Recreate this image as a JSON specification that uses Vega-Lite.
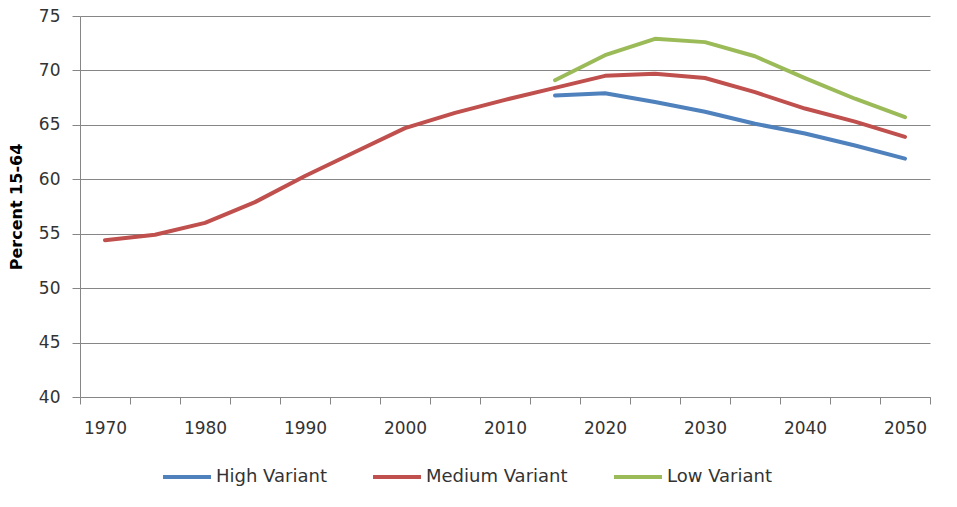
{
  "$schema": "https://vega.github.io/schema/vega-lite/v6.json",
  "autosize": "none",
  "width": 850,
  "height": 381,
  "padding": {"left": 80, "top": 16, "right": 27, "bottom": 110},
  "background": "white",
  "config": {
    "view": {"stroke": null},
    "font": "DejaVu Sans"
  },
  "data": {
    "values": [
      {"year": 1970, "variant": "Medium Variant", "pct": 54.4},
      {"year": 1975, "variant": "Medium Variant", "pct": 54.9},
      {"year": 1980, "variant": "Medium Variant", "pct": 56.0},
      {"year": 1985, "variant": "Medium Variant", "pct": 57.9},
      {"year": 1990, "variant": "Medium Variant", "pct": 60.3},
      {"year": 1995, "variant": "Medium Variant", "pct": 62.5},
      {"year": 2000, "variant": "Medium Variant", "pct": 64.7},
      {"year": 2005, "variant": "Medium Variant", "pct": 66.1},
      {"year": 2010, "variant": "Medium Variant", "pct": 67.3},
      {"year": 2015, "variant": "Medium Variant", "pct": 68.4},
      {"year": 2020, "variant": "Medium Variant", "pct": 69.5},
      {"year": 2025, "variant": "Medium Variant", "pct": 69.7},
      {"year": 2030, "variant": "Medium Variant", "pct": 69.3},
      {"year": 2035, "variant": "Medium Variant", "pct": 68.0},
      {"year": 2040, "variant": "Medium Variant", "pct": 66.5},
      {"year": 2045, "variant": "Medium Variant", "pct": 65.3},
      {"year": 2050, "variant": "Medium Variant", "pct": 63.9},
      {"year": 2015, "variant": "High Variant", "pct": 67.7},
      {"year": 2020, "variant": "High Variant", "pct": 67.9},
      {"year": 2025, "variant": "High Variant", "pct": 67.1},
      {"year": 2030, "variant": "High Variant", "pct": 66.2},
      {"year": 2035, "variant": "High Variant", "pct": 65.1},
      {"year": 2040, "variant": "High Variant", "pct": 64.2},
      {"year": 2045, "variant": "High Variant", "pct": 63.1},
      {"year": 2050, "variant": "High Variant", "pct": 61.9},
      {"year": 2015, "variant": "Low Variant", "pct": 69.1},
      {"year": 2020, "variant": "Low Variant", "pct": 71.4},
      {"year": 2025, "variant": "Low Variant", "pct": 72.9},
      {"year": 2030, "variant": "Low Variant", "pct": 72.6},
      {"year": 2035, "variant": "Low Variant", "pct": 71.3},
      {"year": 2040, "variant": "Low Variant", "pct": 69.3},
      {"year": 2045, "variant": "Low Variant", "pct": 67.4},
      {"year": 2050, "variant": "Low Variant", "pct": 65.7}
    ]
  },
  "mark": {"type": "line", "strokeWidth": 4, "strokeCap": "round", "strokeJoin": "round"},
  "encoding": {
    "x": {
      "field": "year",
      "type": "ordinal",
      "bandPosition": 0.5,
      "scale": {"type": "band", "paddingInner": 0, "paddingOuter": 0},
      "axis": {
        "title": null,
        "labelAngle": 0,
        "tickBand": "extent",
        "labelOverlap": false,
        "labelExpr": "datum.value % 10 == 0 ? datum.label : ''",
        "labelFont": "DejaVu Sans",
        "labelFontSize": 17,
        "labelColor": "#333333",
        "labelPadding": 16,
        "tickSize": 7,
        "tickColor": "#868686",
        "domainColor": "#868686",
        "grid": false
      }
    },
    "y": {
      "field": "pct",
      "type": "quantitative",
      "scale": {"domain": [40, 75], "nice": false, "zero": false},
      "axis": {
        "title": "Percent 15-64",
        "titleFont": "DejaVu Sans",
        "titleFontSize": 16,
        "titleFontWeight": "bold",
        "titleColor": "#000000",
        "titleAngle": -90,
        "titleX": -64,
        "titleY": 190.5,
        "titleAlign": "center",
        "titleBaseline": "middle",
        "values": [40, 45, 50, 55, 60, 65, 70, 75],
        "labelFont": "DejaVu Sans",
        "labelFontSize": 17,
        "labelColor": "#333333",
        "labelPadding": 12,
        "tickSize": 8,
        "tickColor": "#868686",
        "domainColor": "#868686",
        "grid": true,
        "gridColor": "#868686",
        "gridWidth": 1
      }
    },
    "color": {
      "field": "variant",
      "type": "nominal",
      "sort": ["High Variant", "Medium Variant", "Low Variant"],
      "scale": {
        "domain": ["High Variant", "Medium Variant", "Low Variant"],
        "range": ["#4F81BD", "#C0504D", "#9BBB59"]
      },
      "legend": {
        "title": null,
        "orient": "none",
        "direction": "horizontal",
        "legendX": 81,
        "legendY": 435,
        "symbolType": "stroke",
        "symbolSize": 2300,
        "symbolStrokeWidth": 4,
        "labelFont": "DejaVu Sans",
        "labelFontSize": 18,
        "labelColor": "#333333",
        "labelOffset": 3,
        "columnPadding": 38
      }
    }
  }
}
